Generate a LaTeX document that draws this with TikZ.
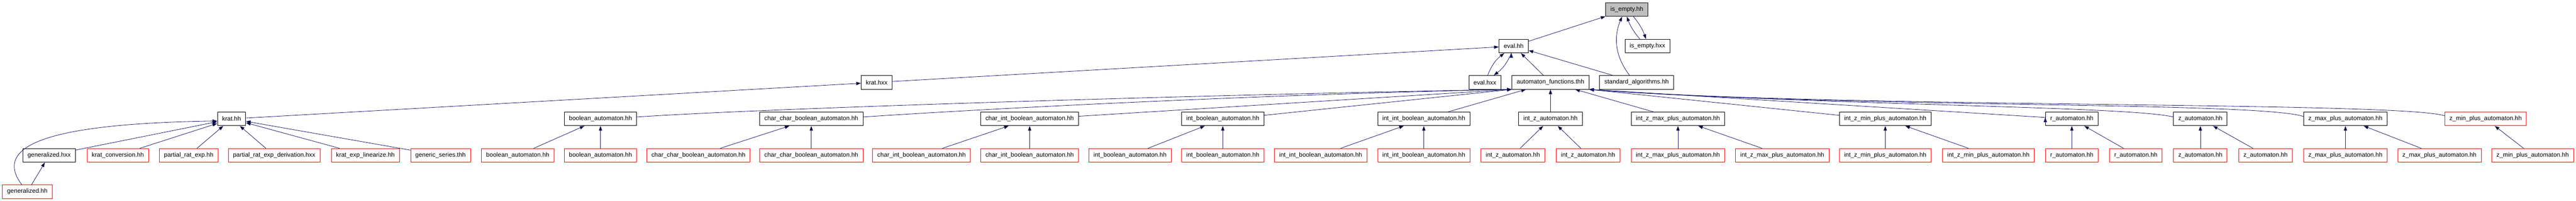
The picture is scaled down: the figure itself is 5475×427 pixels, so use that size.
\documentclass[tikz,border=0pt]{standalone}
\usepackage{fontspec}
\setmainfont{Liberation Sans}
\usetikzlibrary{arrows.meta}

\definecolor{edgeblue}{HTML}{191970}
\definecolor{rootgray}{HTML}{BFBFBF}

\begin{document}
\begin{tikzpicture}[x=1pt,y=1pt,
	file/.style={draw=black,fill=white,rectangle,line width=1pt,minimum height=29pt,inner xsep=10pt,
		font=\fontsize{13.1}{15}\selectfont},
	undoc/.style={file,draw=red},
	root/.style={file,fill=rootgray},
	dep/.style={draw=edgeblue,line width=0.9pt,-{Triangle[length=10pt,width=7pt]}}]
	\useasboundingbox (0,0) rectangle (5475,427);

	\node[root]  (isempty)    at (3457.6,406.8) {is\_empty.hh};
	\node[file]  (evalhh)     at (3217.2,329.1) {eval.hh};
	\node[file]  (isemptyhxx) at (3501.3,329.1) {is\_empty.hxx};
	\node[file]  (krathxx)    at (1863.2,252)   {krat.hxx};
	\node[file]  (evalhxx)    at (3155.8,252)   {eval.hxx};
	\node[file]  (af)         at (3295.3,252)   {automaton\_functions.thh};
	\node[file]  (stdalg)     at (3478.3,252)   {standard\_algorithms.hh};

	\node[file]  (krathh)     at (492.2,174.5)  {krat.hh};
	\node[file]  (bool)       at (1276.3,174.5) {boolean\_automaton.hh};
	\node[file]  (cc)         at (1724.3,174.5) {char\_char\_boolean\_automaton.hh};
	\node[file]  (ci)         at (2188.4,174.5) {char\_int\_boolean\_automaton.hh};
	\node[file]  (ib)         at (2598.9,174.5) {int\_boolean\_automaton.hh};
	\node[file]  (iib)        at (3026.1,174.5) {int\_int\_boolean\_automaton.hh};
	\node[file]  (iz)         at (3295.3,174.5) {int\_z\_automaton.hh};
	\node[file]  (izmax)      at (3566.3,174.5) {int\_z\_max\_plus\_automaton.hh};
	\node[file]  (izmin)      at (4006.9,174.5) {int\_z\_min\_plus\_automaton.hh};
	\node[file]  (r)          at (4403.4,174.5) {r\_automaton.hh};
	\node[file]  (z)          at (4676.6,174.5) {z\_automaton.hh};
	\node[file]  (zmax)       at (4984.9,174.5) {z\_max\_plus\_automaton.hh};
	\node[undoc] (zmin)       at (5282.9,174.5) {z\_min\_plus\_automaton.hh};

	\node[file]  (genhxx)     at (104.5,96.9)   {generalized.hxx};
	\node[undoc] (kconv)      at (250.5,96.9)   {krat\_conversion.hh};
	\node[undoc] (pre)        at (401.1,96.9)   {partial\_rat\_exp.hh};
	\node[undoc] (pred)       at (582.6,96.9)   {partial\_rat\_exp\_derivation.hxx};
	\node[undoc] (klin)       at (776.6,96.9)   {krat\_exp\_linearize.hh};
	\node[undoc] (gser)       at (936.2,96.9)   {generic\_series.thh};
	\node[undoc] (boola)      at (1100.4,96.9)  {boolean\_automaton.hh};
	\node[undoc] (boolb)      at (1276.3,96.9)  {boolean\_automaton.hh};
	\node[undoc] (cca)        at (1484.4,96.9)  {char\_char\_boolean\_automaton.hh};
	\node[undoc] (ccb)        at (1724.3,96.9)  {char\_char\_boolean\_automaton.hh};
	\node[undoc] (cia)        at (1958.7,96.9)  {char\_int\_boolean\_automaton.hh};
	\node[undoc] (cib)        at (2188.4,96.9)  {char\_int\_boolean\_automaton.hh};
	\node[undoc] (iba)        at (2401.8,96.9)  {int\_boolean\_automaton.hh};
	\node[undoc] (ibb)        at (2598.9,96.9)  {int\_boolean\_automaton.hh};
	\node[undoc] (iiba)       at (2806.9,96.9)  {int\_int\_boolean\_automaton.hh};
	\node[undoc] (iibb)       at (3026.1,96.9)  {int\_int\_boolean\_automaton.hh};
	\node[undoc] (iza)        at (3215.4,96.9)  {int\_z\_automaton.hh};
	\node[undoc] (izb)        at (3375.2,96.9)  {int\_z\_automaton.hh};
	\node[undoc] (izmaxa)     at (3566.3,96.9)  {int\_z\_max\_plus\_automaton.hh};
	\node[undoc] (izmaxb)     at (3788,96.9)    {int\_z\_max\_plus\_automaton.hh};
	\node[undoc] (izmina)     at (4006.9,96.9)  {int\_z\_min\_plus\_automaton.hh};
	\node[undoc] (izminb)     at (4226.1,96.9)  {int\_z\_min\_plus\_automaton.hh};
	\node[undoc] (ra)         at (4403.4,96.9)  {r\_automaton.hh};
	\node[undoc] (rb)         at (4539.5,96.9)  {r\_automaton.hh};
	\node[undoc] (za)         at (4676.6,96.9)  {z\_automaton.hh};
	\node[undoc] (zb)         at (4815.2,96.9)  {z\_automaton.hh};
	\node[undoc] (zmaxa)      at (4984.9,96.9)  {z\_max\_plus\_automaton.hh};
	\node[undoc] (zmaxb)      at (5184.8,96.9)  {z\_max\_plus\_automaton.hh};
	\node[undoc] (zmina)      at (5382.8,96.9)  {z\_min\_plus\_automaton.hh};

	\node[undoc] (genhh)      at (58.1,19.8)    {generalized.hh};

	% top of the graph
	\path[dep]
	(evalhh) edge (isempty)
	([xshift=-16pt]isemptyhxx.north) edge [bend left=10] ([xshift=0pt]isempty.south)
	([xshift=14pt]isempty.south) edge [bend left=10] ([xshift=-3pt]isemptyhxx.north)
	([xshift=-15pt]stdalg.north) edge [bend left=30] ([xshift=-10pt]isempty.south)
	(stdalg) edge (evalhh)
	(af) edge (evalhh)
	([xshift=6pt]evalhxx.north) edge [bend left=15] ([xshift=-20pt]evalhh.south)
	([xshift=-5pt]evalhh.south) edge [bend left=15] ([xshift=19pt]evalhxx.north)
	(krathxx) edge (evalhh)
	(krathh) edge (krathxx);

	% krat.hh and its includers
	\draw[dep] ([xshift=-12pt]genhh.north) .. controls (-25,130) and (150,165) .. ([yshift=-4.5pt]krathh.west);
	\path[dep]
	(genhh) edge (genhxx)
	(genhxx) edge (krathh)
	(kconv) edge (krathh)
	(pre) edge (krathh)
	(pred) edge (krathh)
	(klin) edge (krathh)
	(gser) edge (krathh);

	% automata into automaton_functions.thh
	\draw[dep] ([yshift=4pt]bool.east) .. controls +(300,20) and +(-600,-10) .. (af.south west);
	\draw[dep] ([yshift=4pt]cc.east) .. controls +(300,20) and +(-500,-10) .. (af.south west);
	\path[dep]
	([yshift=5.5pt]ci.east) edge (af.south west)
	([yshift=7.5pt]ib.east) edge (af.south west)
	(iib) edge (af)
	(iz) edge (af)
	(izmax) edge (af)
	([yshift=7.5pt]izmin.west) edge (af.south east)
	([yshift=3pt]r.west) edge (af.south east);
	\draw[dep] ([yshift=4pt]z.west) .. controls (4520,202) and (3900,202) .. (af.south east);
	\draw[dep] ([yshift=5pt]zmax.west) .. controls (4800,212) and (3900,197) .. (af.south east);
	\draw[dep] ([yshift=6.5pt]zmin.west) .. controls (5100,212) and (3900,197) .. (af.south east);

	% leaves
	\path[dep]
	(boola) edge (bool)   (boolb) edge (bool)
	(cca) edge (cc)       (ccb) edge (cc)
	(cia) edge (ci)       (cib) edge (ci)
	(iba) edge (ib)       (ibb) edge (ib)
	(iiba) edge (iib)     (iibb) edge (iib)
	(iza) edge (iz)       (izb) edge (iz)
	(izmaxa) edge (izmax) (izmaxb) edge (izmax)
	(izmina) edge (izmin) (izminb) edge (izmin)
	(ra) edge (r)         (rb) edge (r)
	(za) edge (z)         (zb) edge (z)
	(zmaxa) edge (zmax)   (zmaxb) edge (zmax)
	(zmina) edge (zmin);
\end{tikzpicture}
\end{document}
